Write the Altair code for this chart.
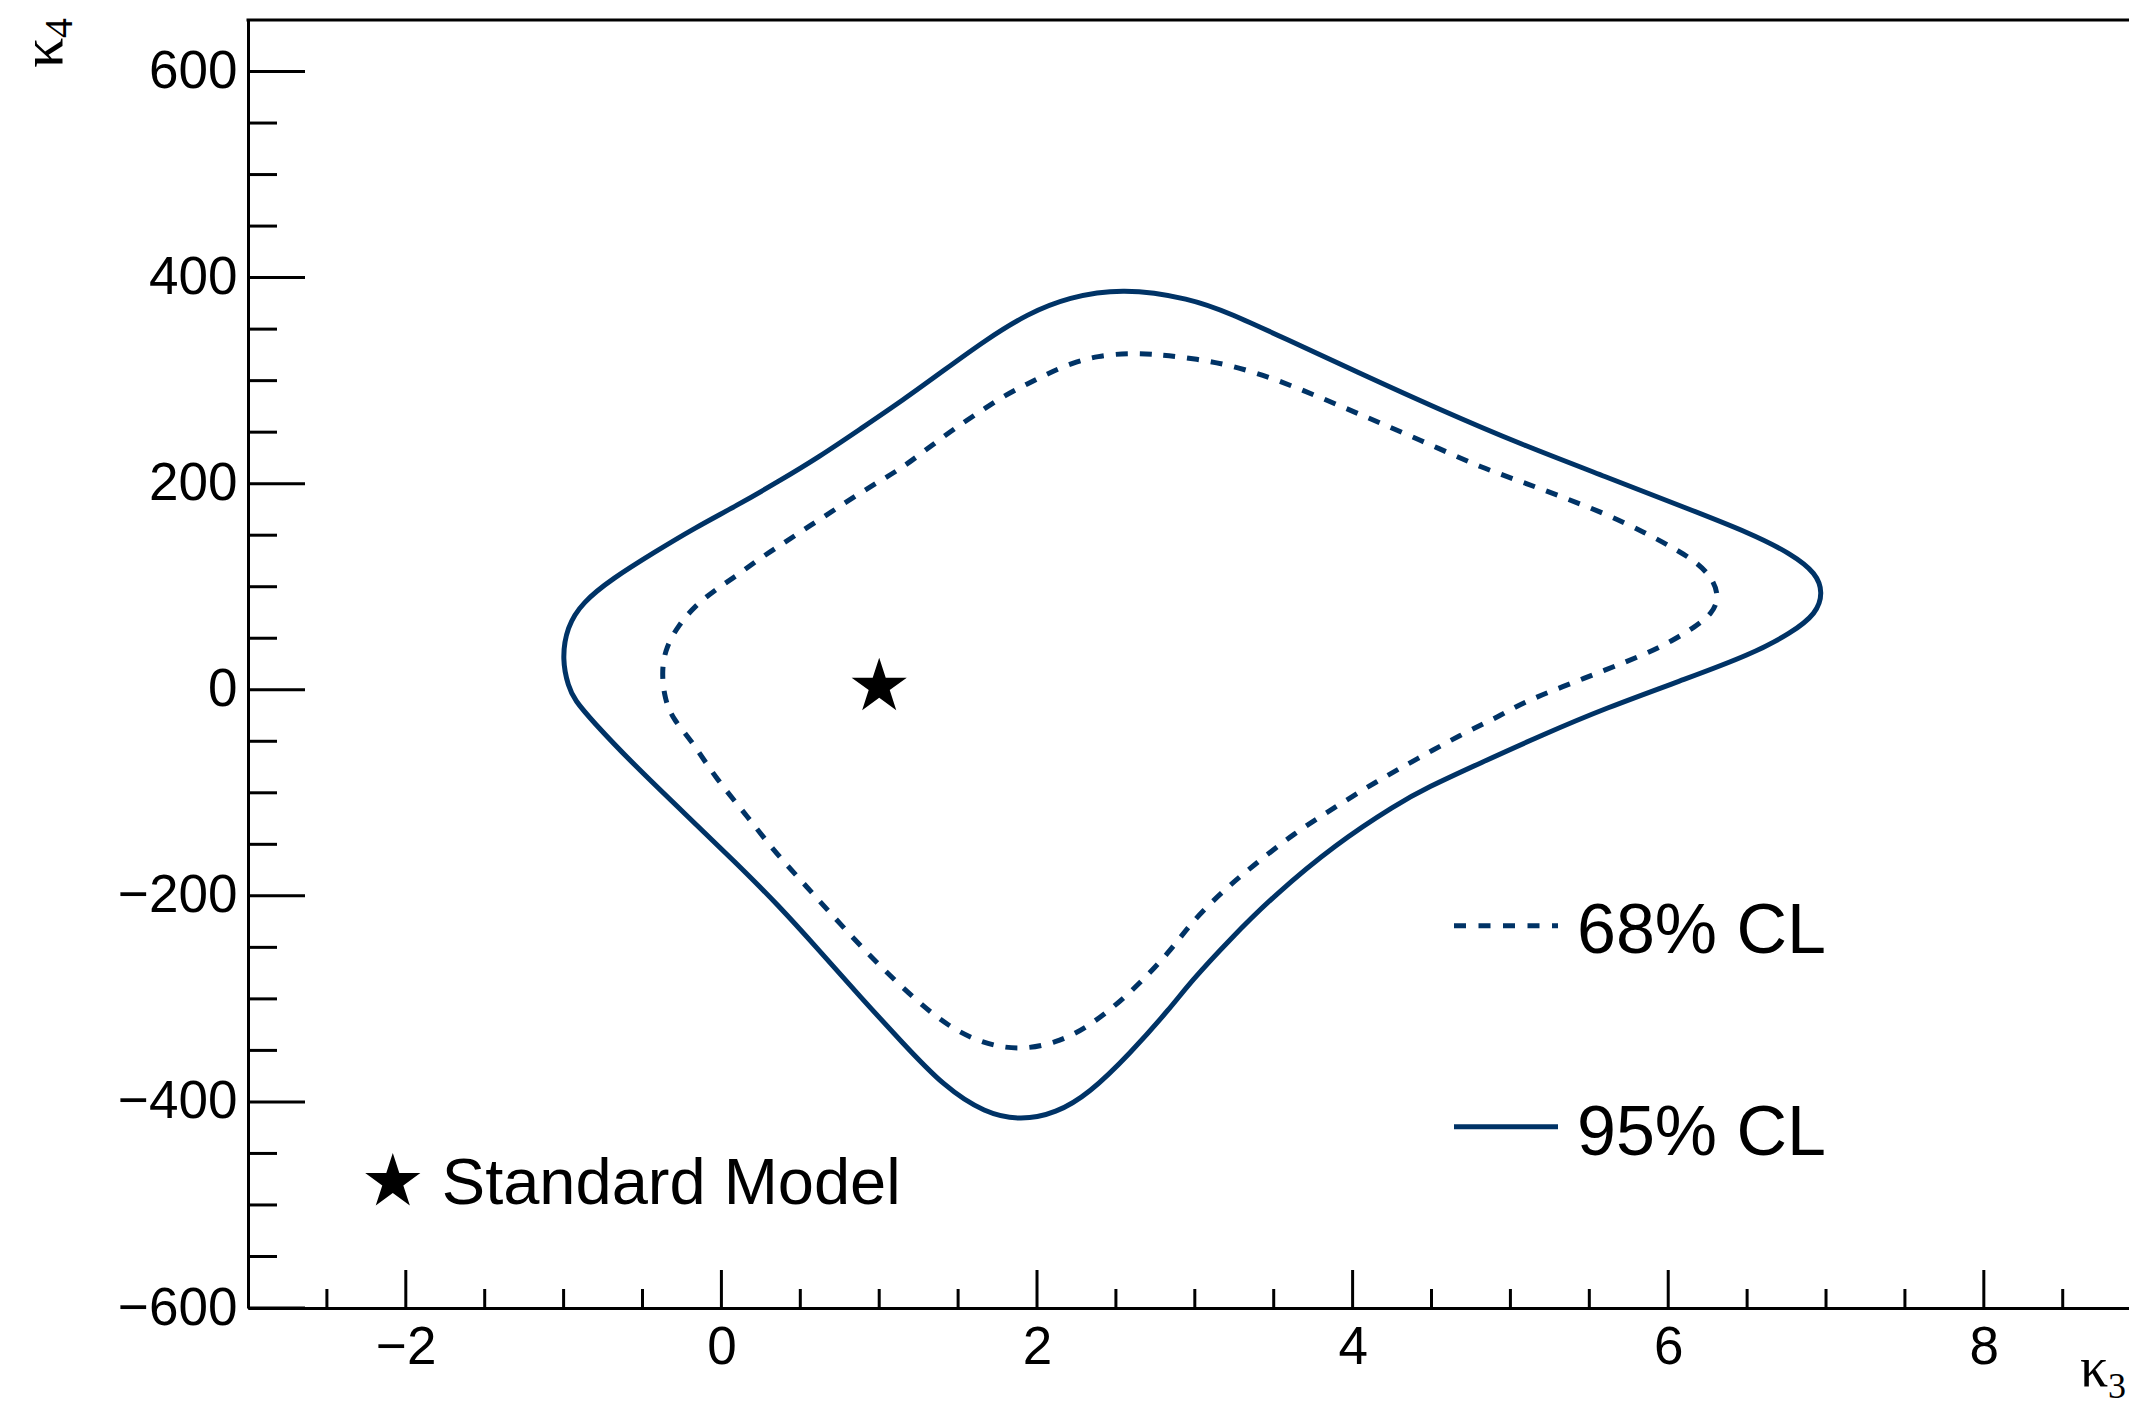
import altair as alt
import pandas as pd

# ---------------- data ----------------
# 95% CL contour (kappa3, kappa4), clockwise starting at the top
k3_95 = [2.54, 2.97, 3.23, 3.57, 4.02, 4.55, 5.07, 5.60, 6.12, 6.52,
         6.78, 6.94, 6.98, 6.94, 6.78, 6.52, 6.12, 5.60, 5.20, 4.81,
         4.47, 4.28, 3.89, 3.50, 3.23, 2.97, 2.85, 2.59, 2.33, 2.12,
         1.90, 1.67, 1.41, 1.15, 0.88, 0.62, 0.36, 0.10, -0.22, -0.56,
         -0.82, -0.93, -0.97, -1.01, -0.98, -0.88, -0.69, -0.43, -0.17, 0.10,
         0.36, 0.62, 0.88, 1.15, 1.41, 1.67, 1.94, 2.20]
k4_95 = [390, 380, 365, 341, 309, 272, 238, 207, 176, 152,
         132, 113, 94, 74, 55, 34, 11, -18, -44, -71,
         -95, -111, -150, -200, -241, -284, -308, -353, -392, -411,
         -418, -411, -385, -343, -298, -253, -209, -169, -122, -72,
         -30, -10, 3, 29, 61, 85, 108, 133, 157, 179,
         202, 226, 253, 281, 310, 339, 365, 381]

# 68% CL contour (kappa3, kappa4), clockwise starting at the top
k3_68 = [2.59, 2.80, 3.01, 3.23, 3.50, 3.76, 4.02, 4.28, 4.55, 4.81,
         5.07, 5.33, 5.60, 5.86, 6.04, 6.19, 6.29, 6.32, 6.28, 6.17,
         6.02, 5.86, 5.60, 5.33, 5.07, 4.94, 4.68, 4.41, 4.15, 3.89,
         3.63, 3.36, 3.18, 2.97, 2.85, 2.59, 2.33, 2.12, 1.88, 1.65,
         1.44, 1.23, 0.99, 0.75, 0.54, 0.33, 0.15, -0.04, -0.19, -0.30,
         -0.36, -0.38, -0.35, -0.27, -0.17, -0.04, 0.10, 0.23, 0.36, 0.49,
         0.62, 0.75, 0.88, 1.02, 1.15, 1.28, 1.41, 1.54, 1.67, 1.80,
         1.94, 2.07, 2.22, 2.38]
k4_68 = [327, 325, 321, 315, 302, 286, 269, 252, 234, 216,
         202, 187, 171, 152, 137, 123, 106, 89, 74, 61,
         47, 35, 19, 3, -13, -25, -44, -67, -89, -114,
         -139, -172, -195, -227, -253, -295, -327, -343, -350, -343,
         -327, -301, -266, -227, -191, -156, -120, -85, -49, -30,
         -10, 19, 42, 63, 81, 97, 111, 126, 139, 152,
         165, 178, 191, 204, 216, 231, 246, 260, 273, 286,
         297, 307, 317, 324]

# Standard Model point
sm_k3 = [1.0]
sm_k4 = [3.0]

# axis ticks
x_major = [-2, 0, 2, 4, 6, 8]
x_minor = [-2.5, -1.5, -1, -0.5, 0.5, 1, 1.5, 2.5, 3, 3.5,
           4.5, 5, 5.5, 6.5, 7, 7.5, 8.5]
y_major = [-600, -400, -200, 0, 200, 400, 600]
y_minor = [-550, -500, -450, -350, -300, -250, -150, -100, -50,
           50, 100, 150, 250, 300, 350, 450, 500, 550]

legend_labels = ["68% CL", "95% CL"]
sm_label = "Standard Model"
x_title = ["κ", "3"]
y_title = ["κ", "4"]

# ---------------- styling ----------------
NAVY = "#003366"
W, H = 1881, 1288
SANS = "Liberation Sans"
SERIF = "Liberation Serif"

STAR = ("M 0 -1 L 0.2245 -0.309 L 0.951 -0.309 L 0.363 0.118 L 0.588 0.809 "
        "L 0 0.382 L -0.588 0.809 L -0.363 0.118 L -0.951 -0.309 L -0.2245 -0.309 Z")

xscale = alt.Scale(domain=[-3, 8.92], nice=False, zero=False)
yscale = alt.Scale(domain=[-600, 650], nice=False, zero=False)

xaxis = alt.Axis(values=x_major, title=None, grid=False, ticks=False, tickSize=0,
                 domain=True, domainColor="black", domainWidth=3,
                 labelFont=SANS, labelFontSize=53, labelColor="black",
                 labelPadding=13, labelFlush=False, labelOverlap=False, format="d")
yaxis = alt.Axis(values=y_major, title=None, grid=False, ticks=False, tickSize=0,
                 domain=True, domainColor="black", domainWidth=3,
                 labelFont=SANS, labelFontSize=53, labelColor="black",
                 labelPadding=11, labelFlush=False, labelOverlap=False, format="d")

X = lambda f: alt.X(f, type="quantitative", scale=xscale, axis=xaxis)
Y = lambda f: alt.Y(f, type="quantitative", scale=yscale, axis=yaxis)

df95 = pd.DataFrame({"k3": k3_95, "k4": k4_95, "o": range(len(k3_95))})
df68 = pd.DataFrame({"k3": k3_68, "k4": k4_68, "o": range(len(k3_68))})
dfsm = pd.DataFrame({"k3": sm_k3, "k4": sm_k4})

c95 = alt.Chart(df95).mark_line(interpolate="basis-closed", color=NAVY,
                                strokeWidth=5).encode(x=X("k3"), y=Y("k4"), order="o:Q")
c68 = alt.Chart(df68).mark_line(interpolate="basis-closed", color=NAVY,
                                strokeWidth=5, strokeDash=[12, 12]).encode(
    x=X("k3"), y=Y("k4"), order="o:Q")

sm = alt.Chart(dfsm).mark_point(shape=STAR, size=3364, filled=True, color="black",
                                opacity=1, strokeWidth=0).encode(x=X("k3"), y=Y("k4"))

# ticks pointing inward
xt_major = alt.Chart(pd.DataFrame({"k3": x_major})).mark_rule(color="black", strokeWidth=3).encode(
    x=X("k3"), y=alt.value(H), y2=alt.value(H - 38))
xt_minor = alt.Chart(pd.DataFrame({"k3": x_minor})).mark_rule(color="black", strokeWidth=3).encode(
    x=X("k3"), y=alt.value(H), y2=alt.value(H - 19))
yt_major = alt.Chart(pd.DataFrame({"k4": y_major})).mark_rule(color="black", strokeWidth=3).encode(
    y=Y("k4"), x=alt.value(0), x2=alt.value(57))
yt_minor = alt.Chart(pd.DataFrame({"k4": y_minor})).mark_rule(color="black", strokeWidth=3).encode(
    y=Y("k4"), x=alt.value(0), x2=alt.value(29))

one = pd.DataFrame({"a": [0]})
top_frame = alt.Chart(one).mark_rule(color="black", strokeWidth=3, strokeCap="square").encode(
    x=alt.value(0), x2=alt.value(W + 20), y=alt.value(0))


def label(text, x, y, size, font=SANS, angle=0, align="left"):
    return alt.Chart(pd.DataFrame({"t": [text]})).mark_text(
        font=font, fontSize=size, color="black", align=align,
        baseline="alphabetic", angle=angle).encode(
        text="t:N", x=alt.value(x), y=alt.value(y))


# legend (upper: dashed 68%, lower: solid 95%)
leg68 = alt.Chart(one).mark_rule(color=NAVY, strokeWidth=5, strokeDash=[12, 12.5]).encode(
    x=alt.value(1206), x2=alt.value(1310), y=alt.value(905.7))
leg95 = alt.Chart(one).mark_rule(color=NAVY, strokeWidth=5).encode(
    x=alt.value(1206), x2=alt.value(1310), y=alt.value(1106.7))
leg68_t = label(legend_labels[0], 1329, 932.7, 70)
leg95_t = label(legend_labels[1], 1329, 1135, 70)

sm_star = alt.Chart(one).mark_point(shape=STAR, size=3364, filled=True, color="black",
                                    opacity=1, strokeWidth=0).encode(
    x=alt.value(144.8), y=alt.value(1162))
sm_t = label(sm_label, 193.8, 1184, 65)

# axis titles  kappa_3 (bottom right) and kappa_4 (rotated, top left)
xt1 = label(x_title[0], 1832, 1366, 56, font=SERIF)
xt2 = label(x_title[1], 1860, 1378, 36, font=SERIF)
yt1 = label(y_title[0], -186, 48, 60, font=SERIF, angle=270)
yt2 = label(y_title[1], -176, 18, 40, font=SERIF, angle=270)

chart = alt.layer(
    c95, c68, sm, xt_major, xt_minor, yt_major, yt_minor, top_frame,
    leg68, leg95, leg68_t, leg95_t, sm_star, sm_t, xt1, xt2, yt1, yt2
).properties(
    width=W, height=H,
    autosize=alt.AutoSizeParams(type="none"),
    padding={"left": 240, "top": 12, "right": 0, "bottom": 100},
    background="white",
).configure_view(stroke=None)

chart.save("out.html", embed_options={"renderer": "svg", "actions": False})
